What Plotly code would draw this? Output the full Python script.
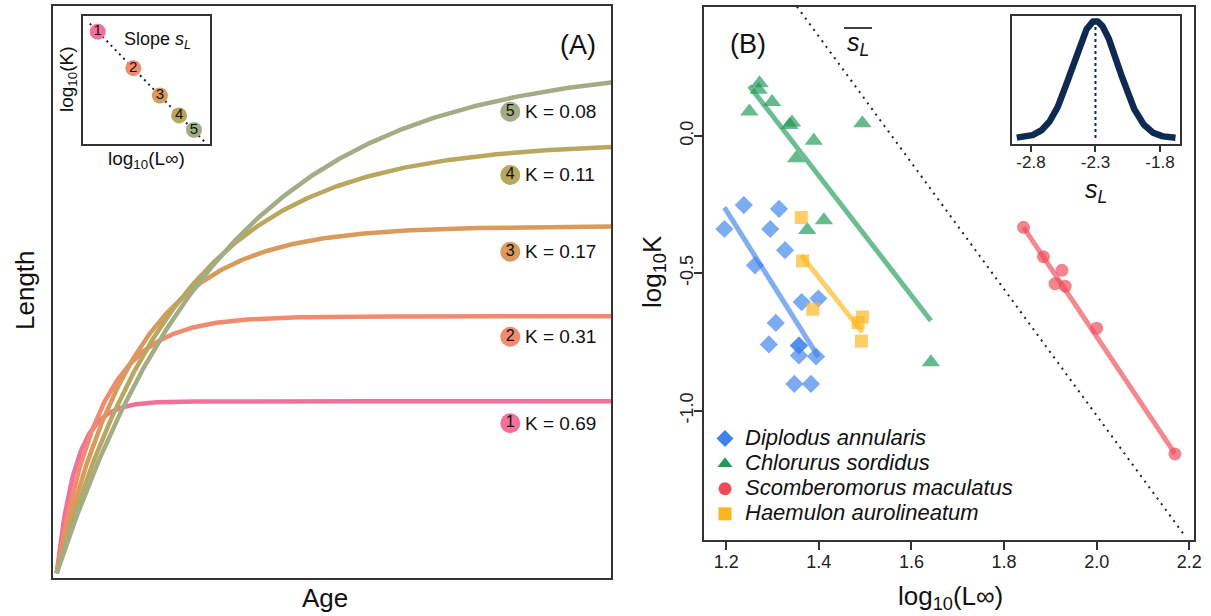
import numpy as np
import plotly.graph_objects as go

W, H = 1211, 616

# ---------------- Panel A data ----------------
curve_ids = ["1", "2", "3", "4", "5"]
K_values = [0.69, 0.31, 0.17, 0.11, 0.08]
Linf_values = [172, 257, 347, 431, 510]
age_max = 41.1
curve_colors = ["#f2719b", "#f08b70", "#d99a5c", "#b9a65f", "#a2ad86"]

# ---------------- Panel B data ----------------
species = ["Diplodus annularis", "Chlorurus sordidus",
           "Scomberomorus maculatus", "Haemulon aurolineatum"]
dip_logL = [1.238, 1.314, 1.196, 1.295, 1.327, 1.262, 1.363, 1.399, 1.307,
            1.292, 1.357, 1.357, 1.357, 1.394, 1.347, 1.383]
dip_logK = [-0.252, -0.266, -0.339, -0.339, -0.416, -0.471, -0.605, -0.592,
            -0.681, -0.759, -0.763, -0.763, -0.799, -0.803, -0.903, -0.903]
chl_logL = [1.272, 1.270, 1.299, 1.250, 1.342, 1.337, 1.494, 1.389, 1.351,
            1.411, 1.375, 1.642]
chl_logK = [0.192, 0.168, 0.123, 0.089, 0.049, 0.040, 0.046, -0.018, -0.081,
            -0.307, -0.343, -0.824]
sco_logL = [1.842, 1.885, 1.925, 1.910, 1.932, 2.000, 2.169]
sco_logK = [-0.333, -0.440, -0.489, -0.538, -0.547, -0.700, -1.158]
hae_logL = [1.362, 1.365, 1.387, 1.494, 1.485, 1.492]
hae_logK = [-0.297, -0.455, -0.631, -0.659, -0.680, -0.747]
fit_slopes = [-2.68, -2.18, -2.52, -2.12]
fit_intercepts = [2.945, 2.907, 4.309, 2.453]

mean_sL = -2.3
sd_sL = 0.18
mean_line_intercept = 3.582
mean_line_x = [1.3527, 2.187]
inset_slope = -2.0

sp_logL = [dip_logL, chl_logL, sco_logL, hae_logL]
sp_logK = [dip_logK, chl_logK, sco_logK, hae_logK]
sp_colors = ["#3f83ea", "#1f9a58", "#ee4a58", "#fdb61c"]
sp_symbols = ["diamond", "triangle-up", "circle", "square"]
sp_sizes = [14, 16, 13, 13]

FONT = "Liberation Sans, Arial, sans-serif"
LC = "#333333"


def px(x):
    return x / W


def py(y):
    return 1 - y / H


fig = go.Figure()

# ---------- Panel A curves ----------
t = np.linspace(0, age_max, 400)
for cid, K, Linf, col in zip(curve_ids, K_values, Linf_values, curve_colors):
    L = Linf * (1 - np.exp(-K * t))
    fig.add_trace(go.Scatter(x=t, y=L, mode="lines", line=dict(color=col, width=4.5),
                             showlegend=False, hoverinfo="skip", xaxis="x", yaxis="y"))

# label circles + K text
label_t = 33.6
label_y = [150, 236.6, 321.6, 398.3, 461.6]
fig.add_trace(go.Scatter(x=[label_t] * 5, y=label_y, mode="markers+text",
                         marker=dict(size=20, color=curve_colors, line=dict(width=0)),
                         text=curve_ids, textposition="middle center",
                         textfont=dict(size=16, color="#111", family=FONT),
                         showlegend=False, hoverinfo="skip", xaxis="x", yaxis="y"))
for K, yy in zip(K_values, label_y):
    fig.add_annotation(x=label_t + 0.95, y=yy, xref="x", yref="y", text=f"K = {K:.2f}",
                       showarrow=False, xanchor="left", yanchor="middle",
                       font=dict(size=19, color="#111", family=FONT))

# ---------- Inset A ----------
logL_in = np.log10(Linf_values)
logK_in = np.log10(K_values)
ia = float(logK_in[0] - inset_slope * logL_in[0])
xl = np.array([2.197, 2.768])
fig.add_trace(go.Scatter(x=xl, y=ia + inset_slope * xl, mode="lines",
                         line=dict(color="#222", width=2, dash="2px,4px"),
                         showlegend=False, hoverinfo="skip", xaxis="x2", yaxis="y2"))
fig.add_trace(go.Scatter(x=logL_in, y=logK_in, mode="markers+text",
                         marker=dict(size=16, color=curve_colors, line=dict(width=0)),
                         text=curve_ids, textposition="middle center",
                         textfont=dict(size=15, color="#111", family=FONT),
                         showlegend=False, hoverinfo="skip", xaxis="x2", yaxis="y2"))

# ---------- Panel B ----------
for name, xs, ys, col, sym, sz, sl, ic in zip(species, sp_logL, sp_logK, sp_colors,
                                              sp_symbols, sp_sizes, fit_slopes, fit_intercepts):
    fig.add_trace(go.Scatter(x=xs, y=ys, mode="markers",
                             marker=dict(symbol=sym, size=sz, color=col, opacity=0.68,
                                         line=dict(width=0)),
                             showlegend=False, hoverinfo="skip", xaxis="x3", yaxis="y3"))
    xr = np.array([min(xs), max(xs)])
    fig.add_trace(go.Scatter(x=xr, y=ic + sl * xr, mode="lines",
                             line=dict(color=col, width=5), opacity=0.65,
                             showlegend=False, hoverinfo="skip", xaxis="x3", yaxis="y3"))

xm = np.array(mean_line_x)
fig.add_trace(go.Scatter(x=xm, y=mean_line_intercept + mean_sL * xm, mode="lines",
                         line=dict(color="#222", width=2, dash="2px,5px"),
                         showlegend=False, hoverinfo="skip", xaxis="x3", yaxis="y3"))

# legend entries
for name, col, sym in zip(species, sp_colors, sp_symbols):
    fig.add_trace(go.Scatter(x=[None], y=[None], mode="markers",
                             name=f'<span style="font-size:22px"><i>{name}</i></span>',
                             marker=dict(symbol=sym, size=13, color=col),
                             xaxis="x3", yaxis="y3"))

# ---------- Inset B ----------
s = np.linspace(-2.91, -1.68, 300)
dens = np.exp(-0.5 * ((s - mean_sL) / sd_sL) ** 2)
fig.add_trace(go.Scatter(x=s, y=dens, mode="lines", line=dict(color="#0d2a50", width=6.5),
                         showlegend=False, hoverinfo="skip", xaxis="x4", yaxis="y4"))
fig.add_trace(go.Scatter(x=[mean_sL, mean_sL], y=[0, 1], mode="lines",
                         line=dict(color="#0d2a50", width=2, dash="3px,3px"),
                         showlegend=False, hoverinfo="skip", xaxis="x4", yaxis="y4"))

ax_common = dict(showline=True, mirror=True, linecolor=LC, linewidth=1.6, showgrid=False,
                 zeroline=False, automargin=False)

fig.update_layout(
    width=W, height=H, margin=dict(l=0, r=0, t=0, b=0, pad=0, autoexpand=False),
    autosize=False,
    paper_bgcolor="white", plot_bgcolor="white",
    font=dict(family=FONT, color="#111"),
    xaxis=dict(domain=[px(53), px(611)], range=[-0.27, 41.06], showticklabels=False,
               ticks="", **ax_common),
    yaxis=dict(domain=[py(578), py(6)], range=[-4.7, 567.3], showticklabels=False,
               ticks="", **ax_common),
    xaxis2=dict(domain=[px(83), px(210)], range=[2.1634, 2.786], showticklabels=False,
                ticks="", anchor="y2", **ax_common),
    yaxis2=dict(domain=[py(144), py(16)], range=[-1.2307, -0.0117], showticklabels=False,
                ticks="", anchor="x2", **ax_common),
    xaxis3=dict(domain=[px(704), px(1194.3)], range=[1.152, 2.2108], anchor="y3",
                tickvals=[1.2, 1.4, 1.6, 1.8, 2.0, 2.2],
                ticktext=["1.2", "1.4", "1.6", "1.8", "2.0", "2.2"],
                ticks="outside", ticklen=8, tickwidth=1.6, tickcolor=LC,
                ticklabelstandoff=-3,
                tickfont=dict(size=18, color="#222"), **ax_common),
    yaxis3=dict(domain=[py(540), py(6.5)], range=[-1.471, 0.471], anchor="x3",
                tickvals=[-1.0, -0.5, 0.0], ticktext=["-1.0", "-0.5", "0.0"],
                tickangle=-90, ticks="outside", ticklen=8, tickwidth=1.6, tickcolor=LC,
                ticklabelstandoff=-6,
                tickfont=dict(size=18, color="#222"), **ax_common),
    xaxis4=dict(domain=[px(1012), px(1180)], range=[-2.947, -1.645], anchor="y4",
                tickvals=[-2.8, -2.3, -1.8], ticktext=["-2.8", "-2.3", "-1.8"],
                ticks="outside", ticklen=6, tickwidth=1.6, tickcolor=LC,
                ticklabelstandoff=-4,
                tickfont=dict(size=17, color="#222"), **ax_common),
    yaxis4=dict(domain=[py(144), py(16)], range=[-0.051, 1.043], anchor="x4",
                showticklabels=False, ticks="", **ax_common),
    legend=dict(x=px(705), y=py(421), xanchor="left", yanchor="top",
                bgcolor="rgba(0,0,0,0)", font=dict(size=17, color="#111", family=FONT),
                tracegroupgap=0, itemsizing="trace"),
    showlegend=True,
)

ann = [
    dict(x=px(578), y=py(45), text="(A)", size=27),
    dict(x=px(748), y=py(44), text="(B)", size=27),
    dict(x=px(325), y=py(598), text="Age", size=26),
    dict(x=px(950), y=py(597), text="log<sub>10</sub>(L∞)", size=26),
    dict(x=px(146), y=py(160), text="log<sub>10</sub>(L∞)", size=19),
    dict(x=px(1096), y=py(191), text="<i>s</i><sub><i>L</i></sub>", size=25),
]
for a in ann:
    fig.add_annotation(x=a["x"], y=a["y"], xref="paper", yref="paper", text=a["text"],
                       showarrow=False, xanchor="center", yanchor="middle",
                       font=dict(size=a["size"], color="#111", family=FONT))
rot = [
    dict(x=px(25), y=py(290), text="Length", size=26),
    dict(x=px(654), y=py(272), text="log<sub>10</sub>K", size=26),
    dict(x=px(68), y=py(80), text="log<sub>10</sub>(K)", size=19),
]
for a in rot:
    fig.add_annotation(x=a["x"], y=a["y"], xref="paper", yref="paper", text=a["text"],
                       showarrow=False, xanchor="center", yanchor="middle", textangle=-90,
                       font=dict(size=a["size"], color="#111", family=FONT))
fig.add_annotation(x=px(122), y=py(40), xref="paper", yref="paper",
                   text="Slope <i>s</i><sub><i>L</i></sub>", showarrow=False,
                   xanchor="left", yanchor="middle",
                   font=dict(size=18, color="#111", family=FONT))
fig.add_annotation(x=px(845), y=py(44), xref="paper", yref="paper",
                   text="<i>s</i><sub><i>L</i></sub>", showarrow=False,
                   xanchor="left", yanchor="middle",
                   font=dict(size=25, color="#111", family=FONT))
fig.add_shape(type="line", xref="paper", yref="paper", x0=px(844), x1=px(872),
              y0=py(28), y1=py(28), line=dict(color="#111", width=1.6))

fig.write_html("out.html")
